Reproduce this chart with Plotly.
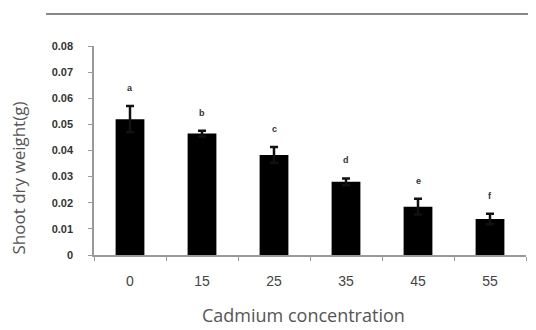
import plotly.graph_objects as go

categories = ["0", "15", "25", "35", "45", "55"]
values = [0.052, 0.0465, 0.0383, 0.028, 0.0185, 0.0138]
errors = [0.005, 0.0011, 0.003, 0.0013, 0.003, 0.002]
letters = ["a", "b", "c", "d", "e", "f"]
y_ticks = [0, 0.01, 0.02, 0.03, 0.04, 0.05, 0.06, 0.07, 0.08]
y_tick_labels = ["0", "0.01", "0.02", "0.03", "0.04", "0.05", "0.06", "0.07", "0.08"]

fig = go.Figure()
fig.add_trace(go.Bar(
    x=categories, y=values, width=0.4,
    marker=dict(color="black", line=dict(width=0)),
    error_y=dict(type="data", array=errors, visible=True, color="#111", thickness=2.5, width=4),
))

for i, (v, e, l) in enumerate(zip(values, errors, letters)):
    fig.add_annotation(x=i, y=v + e, text=l, showarrow=False, yanchor="bottom", yshift=11,
                       font=dict(family="Liberation Sans", size=9, color="#333", weight="bold"))

fig.add_annotation(xref="paper", yref="paper", x=-0.174, y=0.37, text="Shoot dry weight(g)",
                   textangle=-90, showarrow=False, xanchor="center", yanchor="middle",
                   font=dict(family="Open Sans", size=17, color="#555"))
fig.add_annotation(xref="paper", yref="paper", x=0.486, y=-0.352, text="Cadmium concentration",
                   showarrow=False, xanchor="center", yanchor="bottom",
                   font=dict(family="Open Sans", size=18, color="#555"))

fig.add_shape(type="line", xref="paper", yref="paper", x0=-0.111, x1=1.03, y0=1.153, y1=1.153,
              line=dict(color="#888", width=2))

fig.update_layout(
    width=528, height=322,
    margin=dict(l=86, r=10, t=38, b=75),
    plot_bgcolor="white", paper_bgcolor="white",
    showlegend=False,
)
fig.update_xaxes(
    type="category", range=[-0.5, 5.5], showline=True, linecolor="#999", linewidth=1.5,
    ticks="outside", tickson="boundaries", ticklen=4, tickcolor="#999",
    ticklabelstandoff=12,
    tickfont=dict(family="Liberation Sans", size=14, color="#444"),
    showgrid=False, zeroline=False,
)
fig.update_yaxes(
    range=[0, 0.08], tickvals=y_ticks, ticktext=y_tick_labels,
    showline=True, linecolor="#999", linewidth=1.5,
    ticks="outside", ticklen=4, tickcolor="#999",
    ticklabelstandoff=13,
    tickfont=dict(family="Liberation Sans", size=11, color="#333", weight="bold"),
    showgrid=False, zeroline=False,
)

fig.write_html("out.html")
